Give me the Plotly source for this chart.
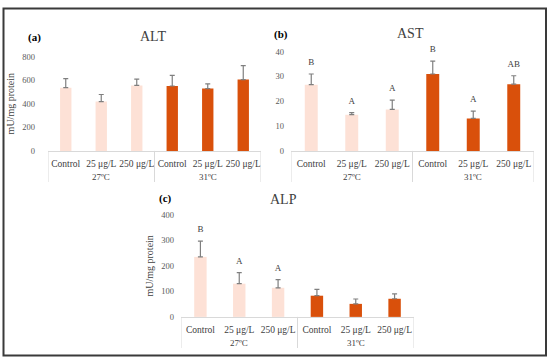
import plotly.graph_objects as go

W, H = 550, 364

groups = ["27ºC", "27ºC", "27ºC", "31ºC", "31ºC", "31ºC"]
doses = ["Control", "25 μg/L", "250 μg/L", "Control", "25 μg/L", "250 μg/L"]

alt_vals = [536, 418, 555, 550, 528, 605]
alt_err = [77, 60, 53, 91, 41, 118]
alt_letters = ["", "", "", "", "", ""]

ast_vals = [26.7, 14.6, 16.7, 31.0, 13.1, 26.9]
ast_err = [4.3, 0.8, 3.8, 5.2, 2.9, 3.4]
ast_letters = ["B", "A", "A", "B", "A", "AB"]

alp_vals = [235, 130, 114, 83, 51, 71]
alp_err = [62, 43, 32, 25, 19, 19]
alp_letters = ["B", "A", "A", "", "", ""]

LIGHT = "#FDE1D6"
DARK = "#D9500B"
colors = [LIGHT if g == "27ºC" else DARK for g in groups]
FONT = "Liberation Serif"
pos = list(range(len(doses)))
group_names = list(dict.fromkeys(groups))
group_pos = [sum(p for p, g in zip(pos, groups) if g == gn) / groups.count(gn) for gn in group_names]
boundaries = [-0.5] + [p + 0.5 for p in range(len(doses) - 1) if groups[p] != groups[p + 1]] + [len(doses) - 0.5]

def px_x(p):
    return p / W

def px_y(p):
    return 1 - p / H

panels = [
    ("ALT", alt_vals, alt_err, alt_letters, (48, 261), (150, 53), [0, 800], 200, "mU/mg protein", "(a)", (35, 33), (153, 32), 12),
    ("AST", ast_vals, ast_err, ast_letters, (291, 534), (150, 48), [0, 40], 10, None, "(b)", (281, 30), (410, 29), 6),
    ("ALP", alp_vals, alp_err, alp_letters, (181, 414), (320.7, 215.7), [0, 400], 100, "mU/mg protein", "(c)", (165, 199), (283, 200), 6),
]

fig = go.Figure()
annotations = []
shapes = []
for i, (name, vals, err, letters, xd, yd, yr, dt, ylab, tag, tagpos, titlepos, so) in enumerate(panels):
    k = "" if i == 0 else str(i + 1)
    xa, ya = "x" + k, "y" + k
    axh = yd[0] - yd[1]
    fig.add_trace(go.Bar(
        x=pos, y=vals, width=0.32,
        marker=dict(color=colors, line=dict(width=0)),
        error_y=dict(type="data", symmetric=False, array=err, arrayminus=[0] * len(err),
                     color="#7F7F7F", thickness=1.2, width=2.5),
        xaxis=xa, yaxis=ya, showlegend=False, hoverinfo="skip",
    ))
    ty = [v + e for v, e in zip(vals, err)]
    fig.add_trace(go.Scatter(
        x=pos, y=ty, text=letters, mode="markers+text", textposition="top center",
        marker=dict(size=9, opacity=0),
        textfont=dict(family=FONT, size=9, color="#404040"),
        xaxis=xa, yaxis=ya, showlegend=False, cliponaxis=False, hoverinfo="skip",
    ))
    fig.layout["xaxis" + k] = dict(
        domain=[px_x(xd[0]), px_x(xd[1])], anchor=ya, range=[-0.5, len(doses) - 0.5],
        tickvals=pos, ticktext=doses,
        showline=True, linecolor="#D9D9D9", linewidth=1,
        tickangle=0, ticklabelstandoff=4,
        tickfont=dict(family=FONT, size=9.5, color="#404040"),
        showgrid=False, zeroline=False, ticks="", fixedrange=True,
    )
    fig.layout["yaxis" + k] = dict(
        domain=[px_y(yd[0]), px_y(yd[1])], anchor=xa, range=yr, dtick=dt,
        showline=False, showgrid=False, zeroline=False, ticks="",
        ticklabelstandoff=so,
        tickfont=dict(family=FONT, size=8.5, color="#595959"),
        title=dict(text=ylab, font=dict(family=FONT, size=10, color="#404040"), standoff=5) if ylab else None,
        fixedrange=True,
    )
    for gn, gp in zip(group_names, group_pos):
        annotations.append(dict(text=gn, x=gp, xref=xa, y=-27 / axh, yref=ya + " domain",
                                showarrow=False, xanchor="center", yanchor="middle",
                                font=dict(family=FONT, size=9, color="#404040")))
    for b in boundaries:
        shapes.append(dict(type="line", xref=xa, yref=ya + " domain", x0=b, x1=b,
                           y0=0, y1=-32 / axh, line=dict(color="#D9D9D9", width=1)))
    annotations.append(dict(text="<b>" + tag + "</b>", x=px_x(tagpos[0]), y=px_y(tagpos[1]),
                            xref="paper", yref="paper", showarrow=False,
                            xanchor="center", yanchor="middle",
                            font=dict(family=FONT, size=11, color="#000000")))
    annotations.append(dict(text=name, x=px_x(titlepos[0]), y=px_y(titlepos[1]),
                            xref="paper", yref="paper", showarrow=False,
                            xanchor="center", yanchor="middle",
                            font=dict(family=FONT, size=14, color="#404040")))

shapes.append(dict(type="rect", xref="paper", yref="paper",
                   x0=px_x(3.5), x1=px_x(546), y0=px_y(360.5), y1=px_y(3.5),
                   line=dict(color="#3A3A3A", width=2)))

fig.update_layout(
    width=W, height=H, margin=dict(l=0, r=0, t=0, b=0),
    paper_bgcolor="white", plot_bgcolor="white",
    annotations=annotations, shapes=shapes, barmode="overlay",
)
fig.write_html("out.html", config={"displayModeBar": False},
               post_script="document.body.style.margin='0';")
